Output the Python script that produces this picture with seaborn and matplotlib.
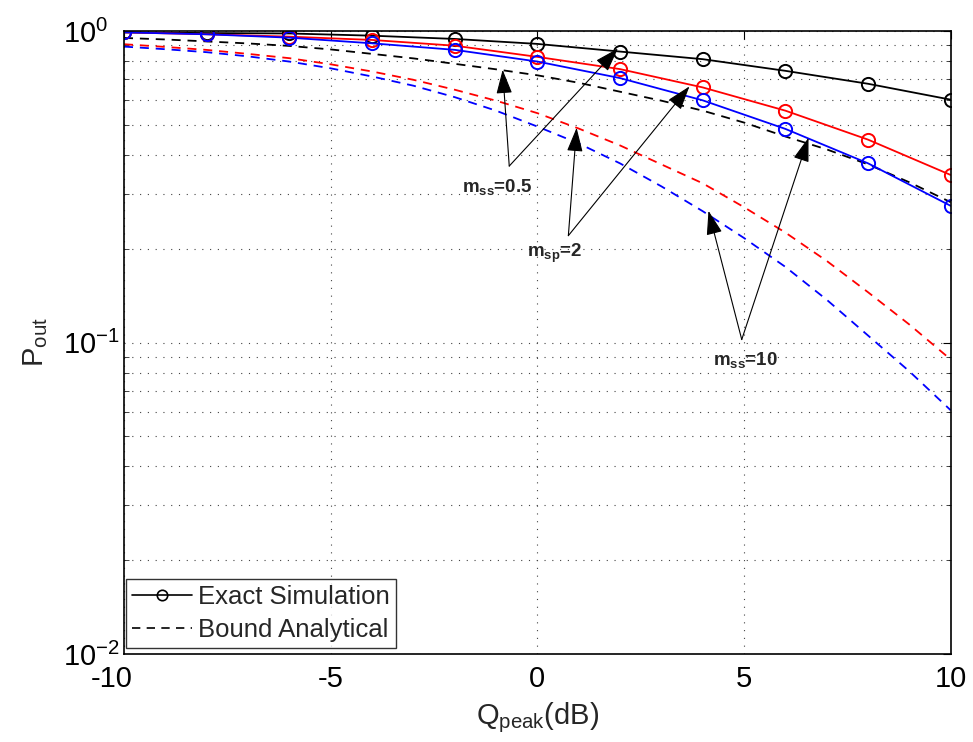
import numpy as np
import pandas as pd
import matplotlib
matplotlib.use("Agg")
import matplotlib.pyplot as plt
import matplotlib.transforms as mtransforms
from matplotlib.lines import Line2D
import seaborn as sns

# ---------------- data ----------------
q_sim = [-10, -8, -6, -4, -2, 0, 2, 4, 6, 8, 10]
sim_black = [0.990, 0.985, 0.982, 0.966, 0.943, 0.909, 0.859, 0.812, 0.745, 0.677, 0.602]
sim_red   = [0.990, 0.976, 0.959, 0.936, 0.897, 0.826, 0.7545, 0.659, 0.555, 0.448, 0.345]
sim_blue  = [0.990, 0.976, 0.952, 0.913, 0.870, 0.798, 0.706, 0.599, 0.485, 0.376, 0.2746]

q_bound = [-10, -9, -8, -7, -6, -5, -4, -3, -2, -1, 0, 1, 2, 3, 4, 5, 6, 7, 8, 9, 10]
bound_black = [0.950, 0.9393, 0.9257, 0.9122, 0.8956, 0.8727, 0.8444, 0.8168, 0.7846, 0.7534,
               0.7208, 0.6820, 0.6384, 0.5975, 0.5550, 0.5082, 0.4585, 0.4168, 0.3731, 0.3268, 0.2821]
bound_red = [0.9069, 0.8890, 0.8696, 0.8444, 0.8180, 0.7817, 0.7413, 0.6972, 0.6479, 0.5975,
             0.5449, 0.4863, 0.4292, 0.3731, 0.3244, 0.2719, 0.2254, 0.1828, 0.1450, 0.1142, 0.0882]
bound_blue = [0.8910, 0.8740, 0.8550, 0.8290, 0.7977, 0.7589, 0.7145, 0.6675, 0.6133, 0.5550,
              0.4935, 0.4355, 0.3759, 0.3172, 0.2640, 0.2165, 0.1749, 0.1372, 0.1053, 0.0808, 0.0606]

x_ticks = [-10, -5, 0, 5, 10]
x_tick_labels = ["-10", "-5", "0", "5", "10"]
y_ticks = [1e-2, 1e-1, 1e0]
y_tick_labels = [r"$\mathregular{10^{-2}}$", r"$\mathregular{10^{-1}}$", r"$\mathregular{10^{0}}$"]

legend_labels = ["Exact Simulation", "Bound Analytical"]

# annotations: (label, text position, tail, [heads])
annotations = [
    (r"$\mathbf{m_{ss}}$=0.5", (-1.82, 0.315), (-0.68, 0.3685), [(-0.84, 0.7506), (1.95, 0.879)]),
    (r"$\mathbf{m_{sp}}$=2", (-0.25, 0.1925), (0.75, 0.2203), [(0.95, 0.489), (3.68, 0.664)]),
    (r"$\mathbf{m_{ss}}$=10", (4.25, 0.0876), (4.945, 0.1022), [(4.14, 0.2647), (6.56, 0.4543)]),
]

# ---------------- style ----------------
sns.set_style("white")
plt.rcParams["font.family"] = ["Liberation Sans", "DejaVu Sans"]
plt.rcParams["axes.unicode_minus"] = False
plt.rcParams["mathtext.fontset"] = "custom"
plt.rcParams["mathtext.rm"] = "Liberation Sans"
plt.rcParams["mathtext.it"] = "Liberation Sans:italic"
plt.rcParams["mathtext.bf"] = "Liberation Sans:bold"

fig = plt.figure(figsize=(9.73, 7.42), dpi=100)
ax = fig.add_axes([124 / 973, 1 - 654 / 742, (950.7 - 124) / 973, (654 - 31) / 742])

sim_df = pd.DataFrame({"q": q_sim, "black": sim_black, "red": sim_red, "blue": sim_blue})
bnd_df = pd.DataFrame({"q": q_bound, "black": bound_black, "red": bound_red, "blue": bound_blue})

colors = {"black": "#000000", "red": "#ff0000", "blue": "#0000ff"}
dash = (0, (5, 3.8))
for name in ["black", "red", "blue"]:
    sns.lineplot(data=bnd_df, x="q", y=name, ax=ax, color=colors[name], lw=1.3,
                 linestyle=dash, legend=False)
for name in ["black", "red", "blue"]:
    sns.lineplot(data=sim_df, x="q", y=name, ax=ax, color=colors[name], lw=1.3,
                 marker="o", markersize=9.5, markerfacecolor="none",
                 markeredgecolor=colors[name], markeredgewidth=1.4, legend=False)

ax.set_yscale("log")
ax.set_xlim(-10, 10)
ax.set_ylim(1e-2, 1e0)
ax.set_xticks(x_ticks)
ax.set_xticklabels(x_tick_labels)
ax.set_yticks(y_ticks)
ax.set_yticklabels(y_tick_labels)
ax.yaxis.set_minor_locator(matplotlib.ticker.LogLocator(base=10, subs=np.arange(2, 10)))
ax.yaxis.set_minor_formatter(matplotlib.ticker.NullFormatter())

ax.tick_params(axis="both", which="major", direction="in", length=6, width=0.8,
               top=True, right=True, labelsize=21, colors="k")
ax.tick_params(axis="x", which="major", pad=8)
# y tick labels are left-aligned at a common left edge in the reference
ax.tick_params(axis="y", which="major", pad=44)
ax.tick_params(axis="y", which="minor", direction="in", length=3.5, width=0.6,
               left=True, right=True)
ax.tick_params(axis="x", which="minor", bottom=False, top=False)
for lbl in ax.get_yticklabels():
    lbl.set_horizontalalignment("left")

# the first x tick label sits slightly left of its tick in the reference
first = ax.get_xticklabels()[0]
first.set_transform(first.get_transform() +
                    mtransforms.ScaledTranslation(-12 / 100, 0, fig.dpi_scale_trans))

grid_style = dict(color="#444444", linestyle=(0, (1, 6)), linewidth=0.8)
ax.grid(True, which="major", axis="x", **grid_style)
ax.grid(True, which="both", axis="y", **grid_style)
ax.set_axisbelow(True)
for s in ax.spines.values():
    s.set_color("k")
    s.set_linewidth(1.2)

ax.set_xlabel(r"$\mathregular{Q_{peak}}$(dB)", fontsize=21, labelpad=5)
ax.set_ylabel(r"$\mathregular{P_{out}}$", fontsize=21, labelpad=9)

# annotations
for label, tpos, tail, heads in annotations:
    ax.text(tpos[0], tpos[1], label, fontsize=13.5, fontweight="bold", ha="left", va="center")
    for h in heads:
        ax.annotate("", xy=h, xytext=tail,
                    arrowprops=dict(arrowstyle="-|>,head_length=1.0,head_width=0.33",
                                    color="k", lw=0.8, shrinkA=0, shrinkB=0,
                                    mutation_scale=15))

# legend
handles = [
    Line2D([], [], color="k", lw=1.2, marker="o", markersize=7.5, markerfacecolor="none",
           markeredgecolor="k", markeredgewidth=1.2),
    Line2D([], [], color="k", lw=1.2, linestyle=dash),
]
leg = ax.legend(handles, legend_labels, loc="lower left",
                bbox_to_anchor=(0.0025, 0.009), borderaxespad=0.0,
                fontsize=18.5, frameon=True, fancybox=False, edgecolor="k",
                handlelength=2.3, handletextpad=0.25,
                borderpad=0.25, labelspacing=0.35)
leg.get_frame().set_linewidth(1.0)

fig.savefig("out.png", dpi=100, facecolor="white")
